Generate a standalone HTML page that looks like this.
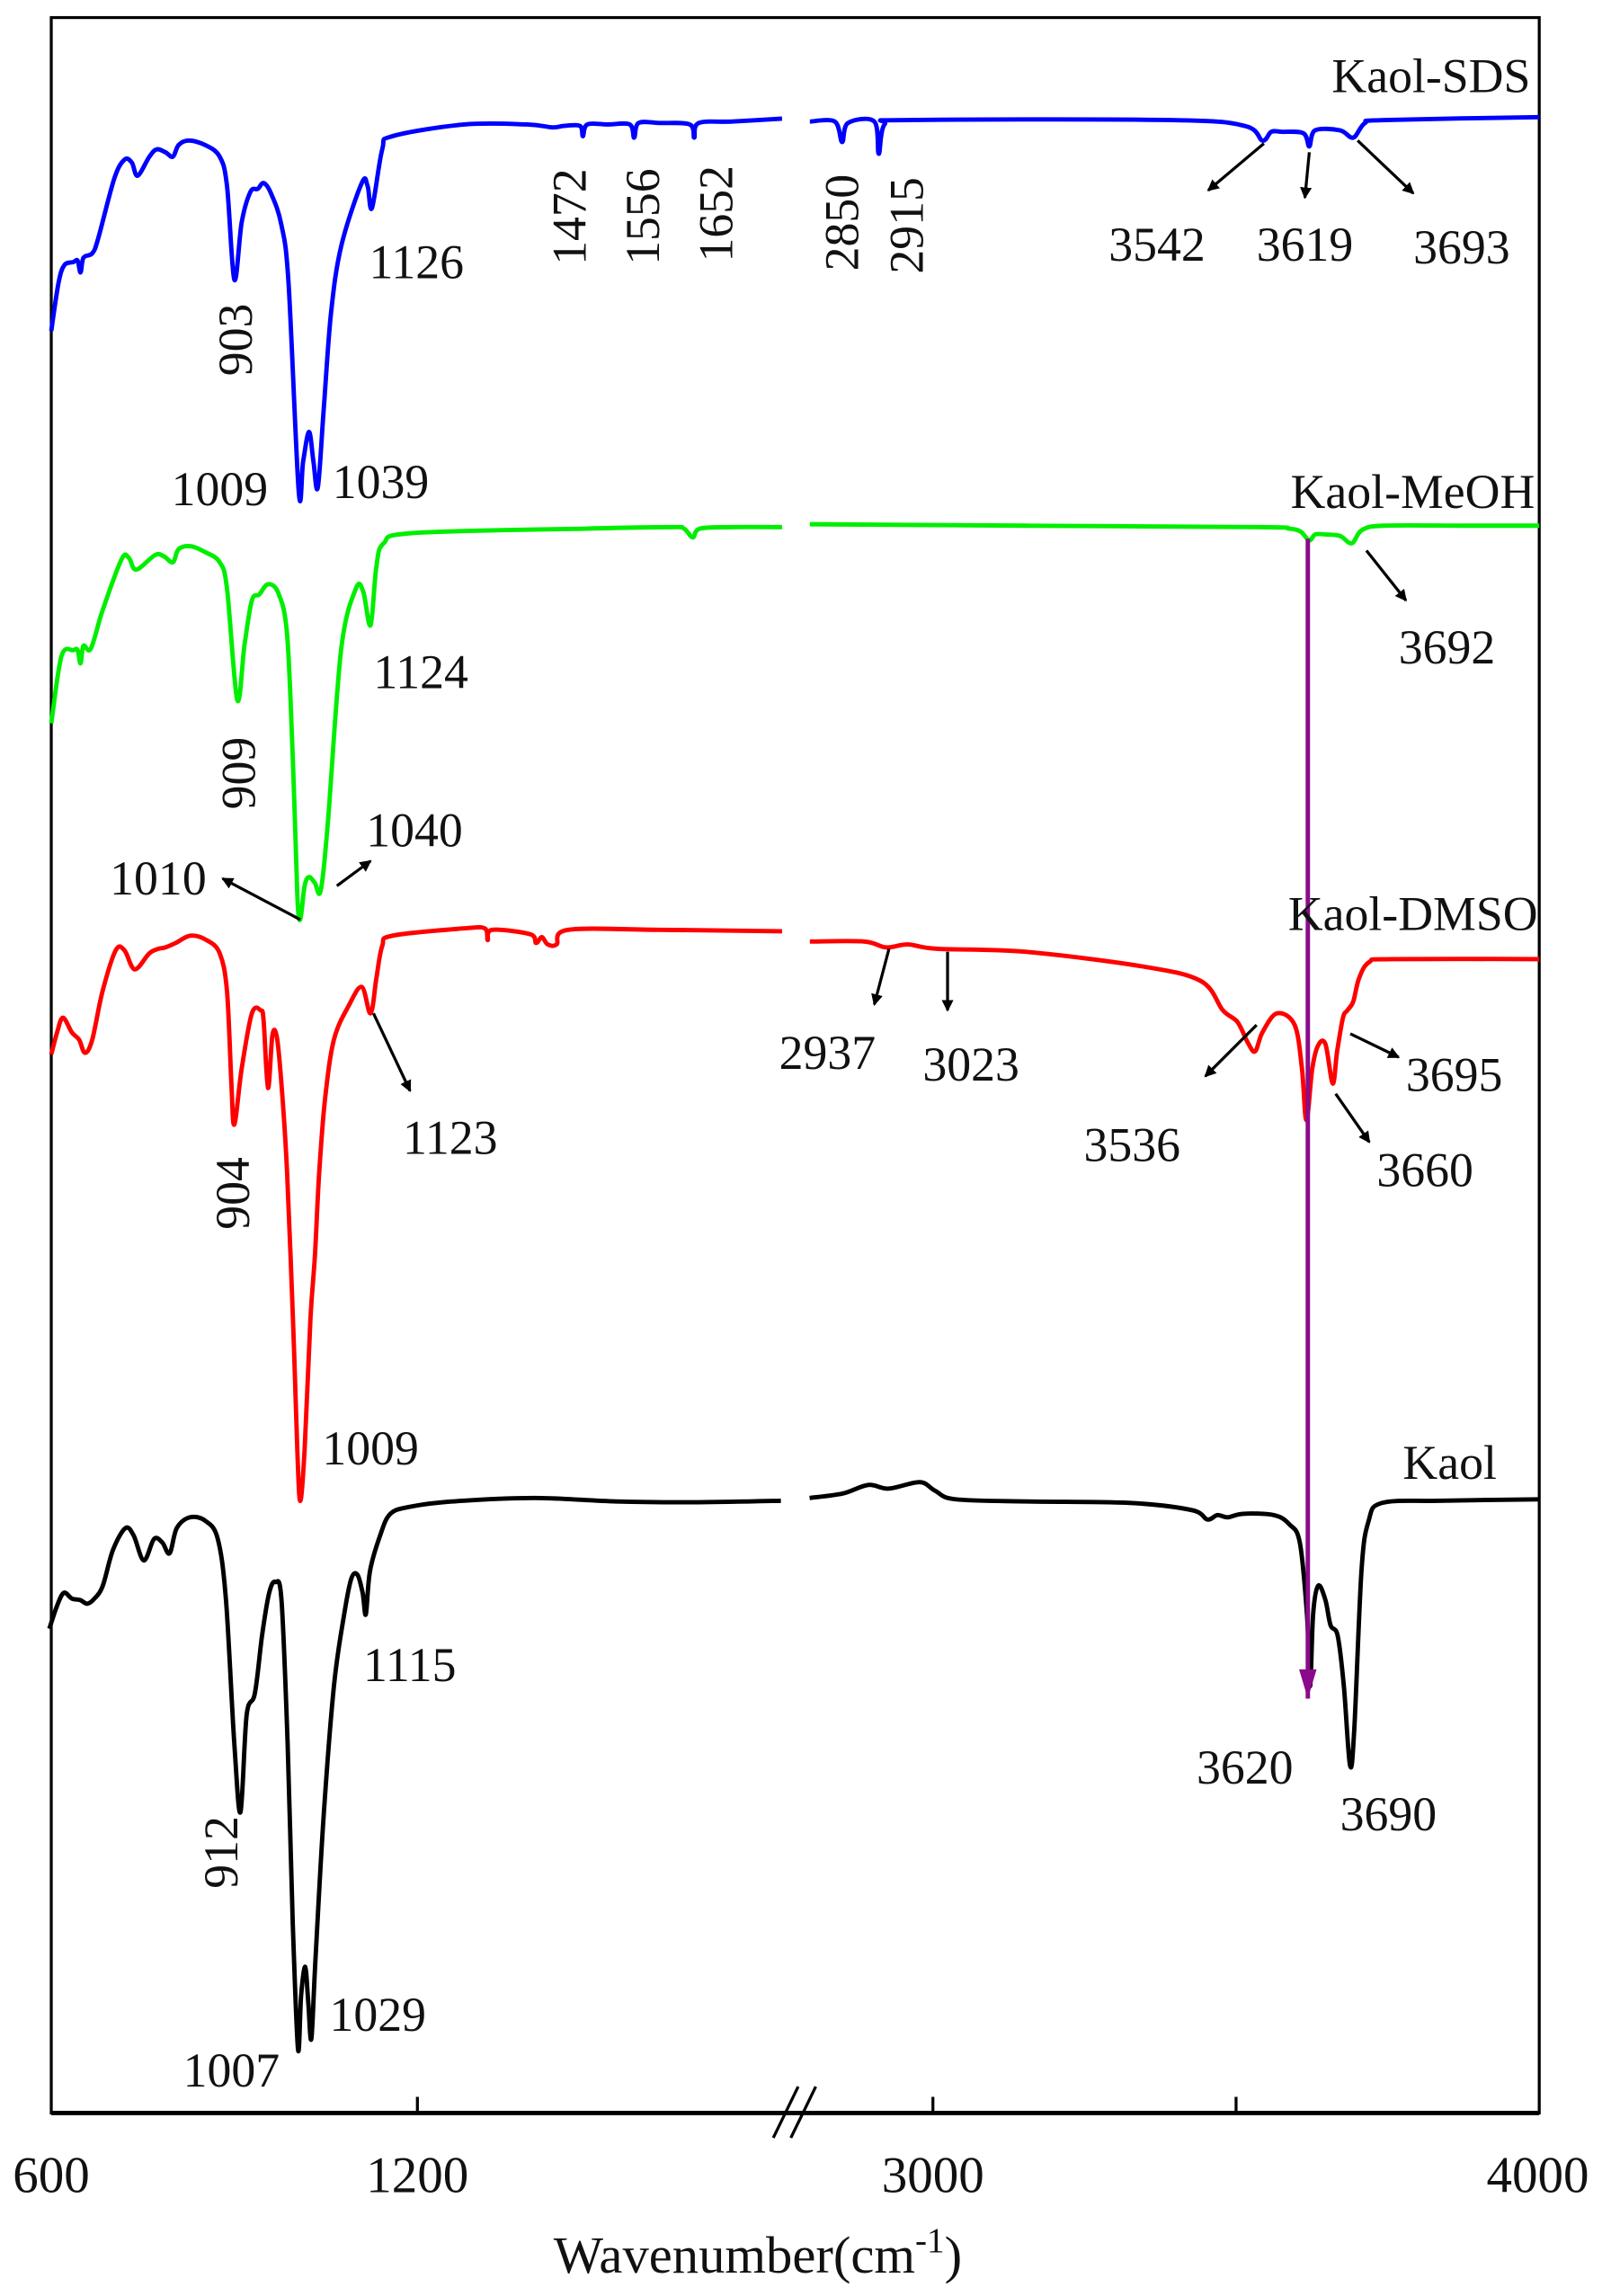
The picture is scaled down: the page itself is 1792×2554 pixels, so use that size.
<!DOCTYPE html>
<html><head><meta charset="utf-8">
<style>
html,body{margin:0;padding:0;background:#fff;}
svg{display:block;}
text{font-family:"Liberation Serif",serif;fill:#111;}
</style></head>
<body>
<svg id="s" width="1792" height="2554" viewBox="0 0 1100 1568" preserveAspectRatio="none" xmlns="http://www.w3.org/2000/svg">
<defs>
<marker id="ah" markerWidth="8" markerHeight="8" refX="7" refY="4" orient="auto" markerUnits="userSpaceOnUse">
<path d="M0,0 L8,4 L0,8 z" fill="#000"/></marker>
<marker id="ap" markerWidth="12" markerHeight="20" refX="6" refY="20" orient="0" markerUnits="userSpaceOnUse">
<path d="M0,0 L12,0 L6,20 z" fill="#8b0a8b"/></marker>
</defs>
<rect x="35" y="12" width="1016" height="1431" fill="none" stroke="#000" stroke-width="2"/>
<line x1="35" y1="1443" x2="1051" y2="1443" stroke="#000" stroke-width="3"/>
<g stroke="#000" stroke-width="2">
<line x1="285" y1="1443" x2="285" y2="1432"/>
<line x1="637" y1="1443" x2="637" y2="1432"/>
<line x1="844" y1="1443" x2="844" y2="1432"/>
<line x1="528" y1="1460" x2="545" y2="1425"/>
<line x1="540" y1="1460" x2="557" y2="1425"/>
</g>
<g id="curves" fill="none" stroke-width="3" stroke-linejoin="round"></g>
<line x1="893" y1="368" x2="893" y2="1160" stroke="#8b0a8b" stroke-width="3" marker-end="url(#ap)"/>
<g stroke="#000" stroke-width="2" marker-end="url(#ah)">
<line x1="863" y1="98" x2="825" y2="130"/>
<line x1="894" y1="104" x2="891" y2="135"/>
<line x1="927" y1="96" x2="965" y2="132"/>
<line x1="205" y1="628" x2="152" y2="600"/>
<line x1="230" y1="605" x2="253" y2="588"/>
<line x1="933" y1="376" x2="960" y2="410"/>
<line x1="255" y1="692" x2="280" y2="745"/>
<line x1="607" y1="648" x2="597" y2="686"/>
<line x1="647" y1="650" x2="647" y2="690"/>
<line x1="858" y1="700" x2="823" y2="735"/>
<line x1="912" y1="747" x2="935" y2="780"/>
<line x1="922" y1="706" x2="955" y2="722"/>
</g>
<g font-size="33">
<text x="1045" y="63" text-anchor="end">Kaol-SDS</text>
<text x="252" y="190">1126</text>
<text x="117" y="345">1009</text>
<text x="227" y="340">1039</text>
<text x="757" y="178">3542</text>
<text x="858" y="178">3619</text>
<text x="965" y="180">3693</text>
<text transform="translate(172,232) rotate(-90)" text-anchor="middle">903</text>
<text transform="translate(400,148) rotate(-90)" text-anchor="middle">1472</text>
<text transform="translate(450,148) rotate(-90)" text-anchor="middle">1556</text>
<text transform="translate(500,146) rotate(-90)" text-anchor="middle">1652</text>
<text transform="translate(586,152) rotate(-90)" text-anchor="middle">2850</text>
<text transform="translate(630,154) rotate(-90)" text-anchor="middle">2915</text>
<text x="1048" y="347" text-anchor="end">Kaol-MeOH</text>
<text x="255" y="470">1124</text>
<text transform="translate(174,528) rotate(-90)" text-anchor="middle">909</text>
<text x="75" y="611">1010</text>
<text x="250" y="578">1040</text>
<text x="955" y="453">3692</text>
<text x="1050" y="635" text-anchor="end">Kaol-DMSO</text>
<text x="275" y="788">1123</text>
<text transform="translate(170,815) rotate(-90)" text-anchor="middle">904</text>
<text x="220" y="1000">1009</text>
<text x="532" y="730">2937</text>
<text x="630" y="738">3023</text>
<text x="740" y="793">3536</text>
<text x="940" y="810">3660</text>
<text x="960" y="745">3695</text>
<text x="1022" y="1010" text-anchor="end">Kaol</text>
<text x="248" y="1148">1115</text>
<text transform="translate(162,1265) rotate(-90)" text-anchor="middle">912</text>
<text x="225" y="1387">1029</text>
<text x="125" y="1425">1007</text>
<text x="817" y="1218">3620</text>
<text x="915" y="1250">3690</text>
</g>
<g font-size="35" text-anchor="middle">
<text x="35" y="1497">600</text>
<text x="285" y="1497">1200</text>
<text x="637" y="1497">3000</text>
<text x="1050" y="1497">4000</text>
</g>
<text x="378" y="1552" font-size="36">Wavenumber(cm<tspan font-size="24" dy="-14">-1</tspan><tspan dy="14">)</tspan></text>
</svg>
<script>
function cr(p){let d="M"+p[0][0]+","+p[0][1];
for(let i=0;i<p.length-1;i++){const p0=p[i-1]||p[i],p1=p[i],p2=p[i+1],p3=p[i+2]||p2;
const c1=[p1[0]+(p2[0]-p0[0])/6,p1[1]+(p2[1]-p0[1])/6],c2=[p2[0]-(p3[0]-p1[0])/6,p2[1]-(p3[1]-p1[1])/6];
d+=" C"+c1[0].toFixed(1)+","+c1[1].toFixed(1)+" "+c2[0].toFixed(1)+","+c2[1].toFixed(1)+" "+p2[0]+","+p2[1];}
return d;}
const S={
blue:[[[35,226],[40,193],[44,181],[50,179],[53,178],[55,186],[57,176],[63,173],[67,163],[78,122],[85,109],[90,111],[94,120],[102,107],[107,102],[113,104],[118,107],[122,99],[129,96],[140,99],[150,107],[155,127],[160,191],[165,152],[171,131],[176,129],[180,125],[185,132],[192,153],[197,193],[204,336],[207,315],[211,295],[214,315],[217,333],[221,280],[226,214],[233,168],[247,125],[251,127],[254,142],[261,102],[268,93],[317,85],[360,85],[377,87],[385,86],[396,86],[398,93],[401,85],[415,85],[430,85],[433,94],[436,84],[450,84],[471,85],[474,94],[477,84],[500,83],[534,81]],
[[553,83],[570,83],[575,97],[579,84],[597,83],[600,105],[604,85],[620,82],[800,82],[850,86],[862,96],[868,90],[875,90],[890,91],[894,100],[898,89],[915,89],[924,94],[932,84],[945,82],[1051,80]]],
lime:[[[35,494],[42,448],[50,444],[53,444],[55,453],[57,441],[62,443],[70,417],[83,382],[88,381],[93,389],[106,379],[112,380],[118,384],[122,375],[130,373],[140,377],[150,384],[155,402],[162,478],[167,440],[172,410],[177,406],[183,399],[190,405],[196,433],[200,520],[203,611],[205,628],[208,605],[211,599],[215,603],[219,608],[224,560],[233,443],[243,402],[248,404],[253,427],[257,387],[262,371],[282,364],[400,361],[458,360],[467,361],[473,367],[478,361],[500,360],[534,360]],
[[553,358],[700,359],[860,360],[880,361],[888,363],[894,369],[898,365],[905,365],[915,366],[923,371],[930,362],[945,359],[1000,359],[1051,359]]],
red:[[[35,720],[39,705],[43,695],[49,705],[54,710],[58,719],[63,710],[70,677],[79,649],[85,649],[92,662],[102,651],[108,648],[113,647],[120,644],[130,639],[141,642],[150,651],[155,677],[158,740],[160,768],[165,730],[172,692],[178,690],[180,697],[183,743],[186,707],[189,708],[192,738],[196,800],[200,900],[203,990],[205,1025],[208,990],[212,900],[215,858],[218,800],[222,750],[228,710],[238,687],[247,674],[253,692],[257,668],[261,646],[268,639],[317,634],[331,634],[333,642],[336,635],[362,638],[366,644],[370,640],[374,645],[380,645],[388,635],[450,635],[534,636]],
[[553,643],[590,643],[605,647],[620,645],[640,648],[700,650],[780,660],[820,670],[835,690],[845,698],[852,712],[857,718],[862,705],[872,692],[884,700],[889,730],[892,765],[896,730],[900,714],[905,713],[910,740],[913,718],[917,695],[920,690],[924,684],[928,668],[935,657],[950,655],[1051,655]]],
"#000":[]};
const z=(a)=>a.map(([x,y])=>[+(x/1.4254).toFixed(1),+((1300+y/1.25)/1.629).toFixed(1)]);
S["#000"]=[z([[48,640],[55,610],[62,590],[70,598],[78,600],[85,605],[92,598],[100,580],[110,530],[122,500],[130,510],[140,545],[150,515],[158,520],[165,535],[172,500],[185,485],[200,490],[212,515],[220,600],[228,800],[234,895],[240,760],[248,730],[255,650],[262,590],[268,575],[274,600],[280,800],[285,1050],[290,1225],[293,1150],[297,1110],[300,1160],[303,1210],[307,1100],[315,900],[325,720],[335,620],[342,570],[348,565],[353,590],[356,620],[360,560],[370,510],[380,480],[400,470],[440,463],[520,458],[600,463],[680,464],[760,462]]),
z([[788,458],[820,452],[845,440],[865,445],[895,436],[910,448],[930,460],[1000,463],[1100,465],[1160,475],[1175,488],[1185,482],[1195,485],[1210,480],[1240,482],[1255,495],[1265,520],[1272,620],[1275,720],[1278,620],[1283,580],[1290,600],[1295,635],[1302,650],[1308,720],[1314,830],[1318,780],[1325,560],[1332,490],[1345,465],[1400,462],[1498,460]])];
const g=document.getElementById("curves");
for(const c in S){for(const seg of S[c]){const p=document.createElementNS("http://www.w3.org/2000/svg","path");
p.setAttribute("d",cr(seg));p.setAttribute("stroke",c==="blue"?"#0000ff":c==="lime"?"#00ee00":c==="red"?"#ff0000":"#000");g.appendChild(p);}}
</script>
</body></html>
